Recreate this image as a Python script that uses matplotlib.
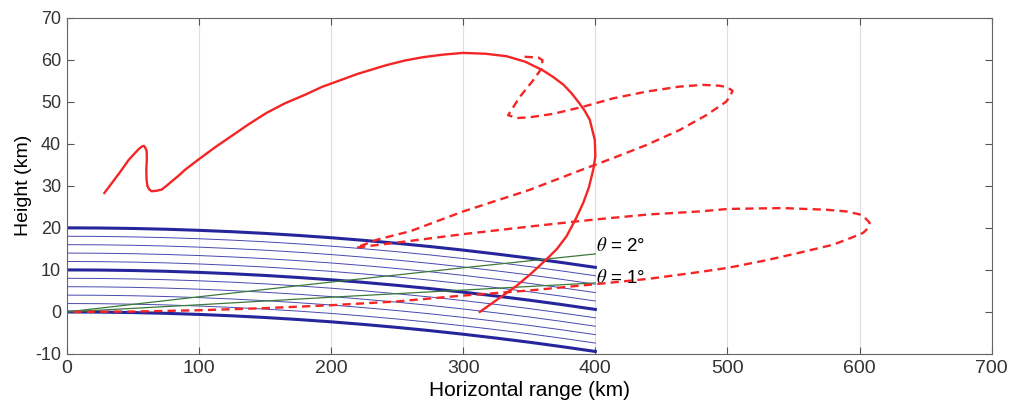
import numpy as np
import matplotlib.pyplot as plt

# ---- data ----
# earth-curvature drop of the reference heights (km) vs horizontal range
x_earth = [0, 25, 50, 75, 100, 125, 150, 175, 200, 225, 250, 275, 300, 325, 350, 375, 400]
drop = [0, -0.04, -0.15, -0.33, -0.59, -0.92, -1.32, -1.8, -2.35, -2.98, -3.68,
        -4.45, -5.3, -6.22, -7.2, -8.27, -9.4]
base_heights = [0, 2, 4, 6, 8, 10, 12, 14, 16, 18, 20]
thick_heights = [0, 10, 20]

# elevation rays
x_theta = [0, 100, 200, 300, 400]
theta2 = [0, 3.6, 7.1, 10.5, 13.8]
theta1 = [0, 1.7, 3.5, 5.2, 6.9]

# solid red trajectory
solid_x = [28.5, 35, 41.6, 47, 51.7, 55, 57.2, 58.3, 59.2, 60.5, 60.6, 60.2, 60.4, 61,
           62.5, 64.3, 67.5, 71.9, 75.5, 80, 85, 89.5, 99.5, 112, 125, 138, 151, 165,
           180, 193, 207, 220, 242, 256, 270, 285, 300, 317, 333, 347, 360, 368, 376,
           382, 388, 392, 395.8, 399.6, 400, 398.4, 395, 390.8, 385, 378.2, 371, 363,
           352, 340.4, 326, 312.6]
solid_y = [28.3, 31, 33.8, 36.2, 37.8, 38.9, 39.4, 39.5, 39.2, 38.3, 36, 33.8, 31.5, 30,
           29.1, 28.7, 28.8, 29.1, 30.0, 31.2, 32.5, 33.8, 36.2, 39.1, 41.9, 44.7, 47.3,
           49.6, 51.6, 53.5, 55.1, 56.6, 58.7, 59.8, 60.6, 61.2, 61.6, 61.4, 60.8, 59.5,
           57.5, 55.9, 54, 52, 49.6, 47.8, 45.7, 40.9, 37, 33.8, 29.5, 25.9, 22, 18.0,
           15, 12.5, 9.3, 6.2, 3, 0]

# dashed red trajectory
dash_x = [5, 50, 100, 150, 200, 250, 300, 350, 400, 441, 479, 500.5, 529.5, 554.7,
          580, 595, 602.6, 606, 607.6, 604, 600, 590, 575, 542, 500.5, 479, 441, 400.4,
          388, 350, 300, 260, 219, 235, 260, 300, 350, 388, 413.5, 438.7, 464, 484, 499,
          502, 503.8, 500, 494, 481.5, 464, 438.7, 413.5, 390.8, 368, 350.5, 340.4, 334,
          343, 353, 359.3, 360, 356.7, 345.4]
dash_y = [0, 0.1, 0.4, 0.9, 1.6, 2.5, 3.9, 5.1, 6.6, 7.9, 9.5, 10.5, 12.3, 14.1,
          16.0, 17.8, 18.8, 19.8, 21.2, 22.4, 23.2, 23.9, 24.3, 24.7, 24.5, 23.9, 23.2,
          22.0, 21.6, 20.3, 18.5, 16.9, 15.3, 17.2, 19.2, 23.9, 29.0, 33.6, 36.6, 39.7,
          43.3, 46.8, 50.0, 51.3, 52.6, 53.4, 53.8, 54.0, 53.6, 52.4, 50.8, 48.8, 47.1,
          46.3, 46.1, 46.8, 51.2, 55.1, 57.9, 59.9, 60.5, 60.7]

xticks = [0, 100, 200, 300, 400, 500, 600, 700]
yticks = [-10, 0, 10, 20, 30, 40, 50, 60, 70]

plt.rcParams['font.family'] = ['Liberation Sans', 'DejaVu Sans']
plt.rcParams['mathtext.fontset'] = 'stix'

fig = plt.figure(figsize=(10.11, 4.09), dpi=100)
ax = fig.add_axes([0.066, 0.1345, 0.915, 0.8225])

blue = '#26269c'
xe = np.array(x_earth)
de = np.array(drop)
for h in base_heights:
    if h in thick_heights:
        ax.plot(xe, h + de, color=blue, lw=2.2, zorder=2)
    else:
        ax.plot(xe, h + de, color='#4848b0', lw=0.7, zorder=2)

ax.plot(x_theta, theta2, color='#3b7a3b', lw=0.9, zorder=3)
ax.plot(x_theta, theta1, color='#3b7a3b', lw=0.9, zorder=3)
ax.text(400.5, 15.6, r'$\theta$ = 2°', fontsize=13.5, va='center', ha='left')
ax.text(400.5, 8.0, r'$\theta$ = 1°', fontsize=13.5, va='center', ha='left')

red = '#f52525'
ax.plot(solid_x, solid_y, color=red, lw=1.7, zorder=4, solid_joinstyle='round')
ax.plot(dash_x, dash_y, color=red, lw=1.7, dashes=(3.5, 2.2), zorder=4)

ax.set_xlim(0, 700)
ax.set_ylim(-10, 70)
ax.set_xticks(xticks)
ax.set_yticks(yticks)
ax.set_xticklabels([str(v) for v in xticks], fontsize=14)
ax.set_yticklabels([str(v) for v in yticks], fontsize=13)
ax.grid(axis='x', color='#dddddd', lw=0.8)
ax.set_axisbelow(True)
ax.tick_params(direction='in', length=5, top=True, right=True, colors='#555555',
               labelcolor='#333333', pad=4)
for s in ax.spines.values():
    s.set_color('#666666')
    s.set_linewidth(0.8)

ax.set_xlabel('Horizontal range (km)', fontsize=15, labelpad=3)
ax.set_ylabel('Height (km)', fontsize=14, labelpad=2)

fig.savefig('out.png', dpi=100)
